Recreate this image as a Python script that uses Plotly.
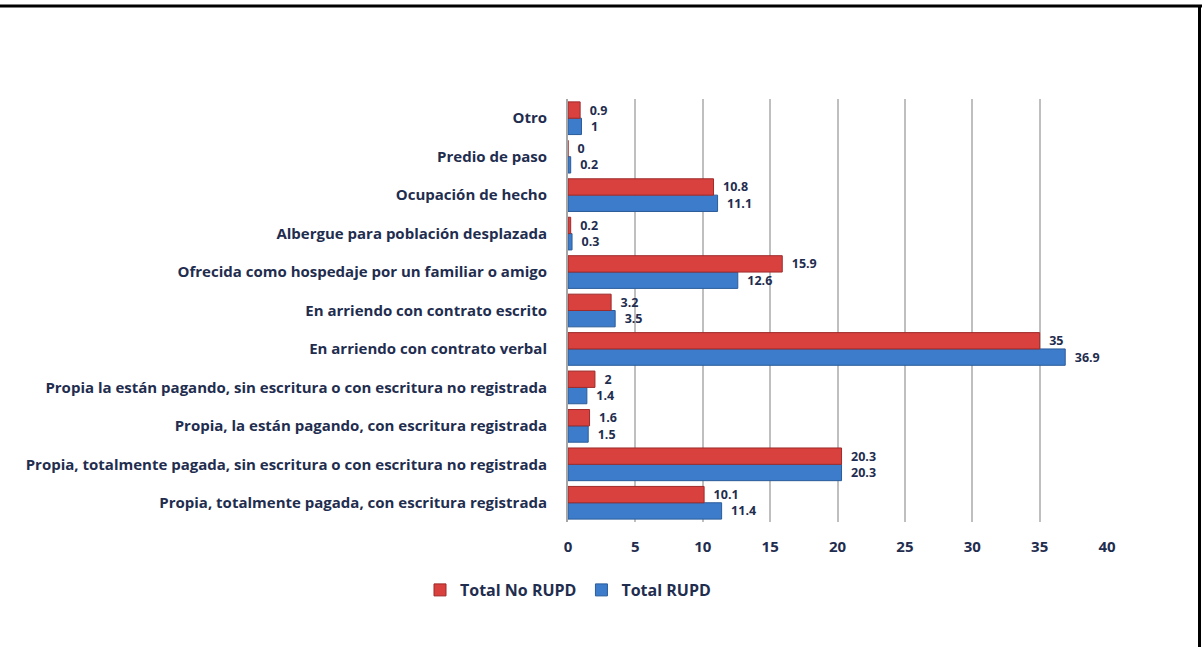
import plotly.graph_objects as go

categories = [
    "Propia, totalmente pagada, con escritura registrada",
    "Propia, totalmente pagada, sin escritura o con escritura no registrada",
    "Propia, la están pagando, con escritura registrada",
    "Propia la están pagando, sin escritura o con escritura no registrada",
    "En arriendo con contrato verbal",
    "En arriendo con contrato escrito",
    "Ofrecida como hospedaje por un familiar o amigo",
    "Albergue para población desplazada",
    "Ocupación de hecho",
    "Predio de paso",
    "Otro",
]
total_no_rupd = [10.1, 20.3, 1.6, 2, 35, 3.2, 15.9, 0.2, 10.8, 0, 0.9]
total_rupd = [11.4, 20.3, 1.5, 1.4, 36.9, 3.5, 12.6, 0.3, 11.1, 0.2, 1]
x_ticks = [0, 5, 10, 15, 20, 25, 30, 35, 40]

W, H = 1202, 647
ML, MR, MT, MB = 568, 95, 99, 125
PW, PH = W - ML - MR, H - MT - MB

def px_x(p):
    return (p - ML) / PW

def px_y(p):
    return (H - MB - p) / PH

FONT = "Open Sans, Lato, sans-serif"
TXT = "#1F2D4F"
label_font = dict(family=FONT, size=12.5, color=TXT, weight="bold")

fig = go.Figure()
fig.add_trace(go.Bar(
    y=categories, x=total_rupd, orientation="h", name="Total RUPD",
    marker=dict(color="#3D7CCB", line=dict(color="#2B5C99", width=1)),
    text=[str(v) for v in total_rupd], texttemplate="  %{text}",
    textposition="outside", constraintext="none",
    textfont=label_font, cliponaxis=False, legendrank=2,
))
fig.add_trace(go.Bar(
    y=categories, x=total_no_rupd, orientation="h", name="Total No RUPD",
    marker=dict(color="#D9413F", line=dict(color="#9E2B2A", width=1)),
    text=[str(v) for v in total_no_rupd], texttemplate="  %{text}",
    textposition="outside", constraintext="none",
    textfont=label_font, cliponaxis=False, legendrank=1,
))

fig.update_layout(
    width=W, height=H,
    margin=dict(l=ML, r=MR, t=MT, b=MB),
    paper_bgcolor="white", plot_bgcolor="white",
    barmode="group", bargap=0.15, bargroupgap=0.0,
    font=dict(family=FONT, color=TXT),
    legend=dict(
        orientation="h", x=px_x(568), y=px_y(590),
        xanchor="center", yanchor="middle",
        font=dict(family=FONT, size=16, color=TXT, weight="bold"),
        itemwidth=30,
    ),
    shapes=[
        dict(type="line", xref="paper", yref="paper",
             x0=px_x(0), x1=px_x(W), y0=px_y(6), y1=px_y(6),
             line=dict(color="black", width=3)),
        dict(type="line", xref="paper", yref="paper",
             x0=px_x(1199.5), x1=px_x(1199.5), y0=px_y(6), y1=px_y(H),
             line=dict(color="black", width=3)),
    ],
)
fig.update_xaxes(
    range=[0, 40], tickvals=x_ticks, ticktext=[str(t) for t in x_ticks],
    showgrid=True, gridcolor="#BFBFBF", gridwidth=2,
    zeroline=False, showline=False, ticks="",
    tickfont=dict(family=FONT, size=15, color=TXT, weight="bold"),
    ticklabelstandoff=14,
)
fig.update_yaxes(
    type="category", categoryorder="array", categoryarray=categories,
    showgrid=False, showline=True, linecolor="#A6A6A6", linewidth=2,
    ticks="", ticklabelstandoff=16,
    tickfont=dict(family=FONT, size=15, color=TXT, weight="bold"),
)

fig.write_html("out.html")
